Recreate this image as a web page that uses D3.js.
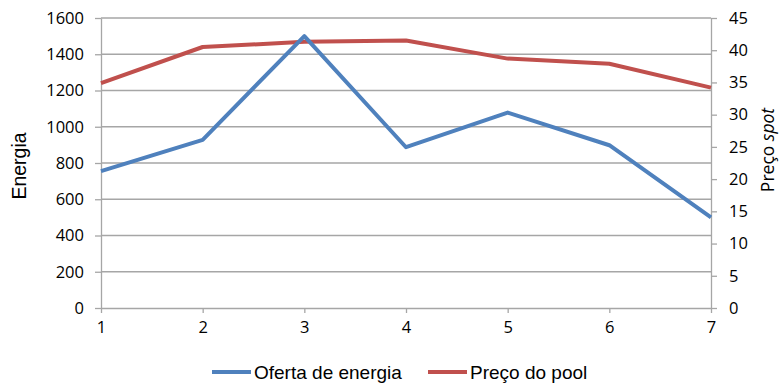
<!DOCTYPE html>
<html>
<head>
<meta charset="utf-8">
<script src="https://cdn.jsdelivr.net/npm/d3@7"></script>
<style>
  html, body { margin: 0; padding: 0; background: #fff; }
  svg { display: block; }
</style>
</head>
<body>
<svg id="chart" width="780" height="383"></svg>
<script>
// Periods and the two series
const periods = [1, 2, 3, 4, 5, 6, 7];
const oferta = [755, 928, 1500, 887, 1078, 898, 500];
const preco = [34.9, 40.5, 41.3, 41.5, 38.7, 37.9, 34.2];
const leftTicks = [0, 200, 400, 600, 800, 1000, 1200, 1400, 1600];
const rightTicks = [0, 5, 10, 15, 20, 25, 30, 35, 40, 45];
const seriesNames = ["Oferta de energia", "Preço do pool"];
const colors = ["#4f81bd", "#c0504d"];

const svg = d3.select("#chart");
const plotLeft = 101, plotRight = 711, plotTop = 18, plotBottom = 308;
const tickFont = "'Open Sans', sans-serif";
const labelFont = "'Liberation Sans', Arial, sans-serif";
const gridColor = "#a6a6a6";

const x = d3.scaleLinear().domain([1, 7]).range([plotLeft, plotRight]);
const yL = d3.scaleLinear().domain([0, 1600]).range([plotBottom, plotTop]);
const yR = d3.scaleLinear().domain([0, 45]).range([plotBottom, plotTop]);

// Horizontal gridlines
svg.append("g").selectAll("line").data(leftTicks.slice(1)).join("line")
  .attr("x1", plotLeft).attr("x2", plotRight)
  .attr("y1", d => yL(d)).attr("y2", d => yL(d))
  .attr("stroke", gridColor).attr("stroke-width", 1.3);

function styleAxis(g) {
  g.select(".domain").attr("stroke", gridColor).attr("stroke-width", 1.3);
  g.selectAll(".tick line").attr("stroke", gridColor).attr("stroke-width", 1.3);
  g.selectAll(".tick text").attr("fill", "#000")
    .style("font-family", tickFont).style("font-size", "16.5px");
}

const fmt = d3.format("d");

svg.append("g").attr("transform", `translate(${plotLeft},0)`)
  .call(d3.axisLeft(yL).tickValues(leftTicks).tickFormat(fmt).tickSize(6).tickPadding(11).tickSizeOuter(0))
  .call(styleAxis);

svg.append("g").attr("transform", `translate(${plotRight},0)`)
  .call(d3.axisRight(yR).tickValues(rightTicks).tickFormat(fmt).tickSize(6).tickPadding(12).tickSizeOuter(0))
  .call(styleAxis);

svg.append("g").attr("transform", `translate(0,${plotBottom})`)
  .call(d3.axisBottom(x).tickValues(periods).tickFormat(fmt).tickSize(5).tickPadding(8).tickSizeOuter(0))
  .call(styleAxis);

// Lines
const lineL = d3.line().x((d, i) => x(periods[i])).y(d => yL(d));
const lineR = d3.line().x((d, i) => x(periods[i])).y(d => yR(d));

svg.append("path").datum(preco).attr("d", lineR)
  .attr("fill", "none").attr("stroke", colors[1]).attr("stroke-width", 4)
  .attr("stroke-linejoin", "round");
svg.append("path").datum(oferta).attr("d", lineL)
  .attr("fill", "none").attr("stroke", colors[0]).attr("stroke-width", 4)
  .attr("stroke-linejoin", "round");

// Axis titles
svg.append("text")
  .attr("transform", "translate(26,166) rotate(-90)")
  .attr("text-anchor", "middle")
  .style("font-family", labelFont)
  .style("font-size", "19.5px").attr("fill", "#000")
  .text("Energia");

const rt = svg.append("text")
  .attr("transform", "translate(774,150) rotate(-90)")
  .attr("text-anchor", "middle")
  .style("font-family", tickFont)
  .style("font-size", "17.5px").attr("fill", "#000");
rt.append("tspan").text("Preço ");
rt.append("tspan").style("font-style", "italic").text("spot");

// Legend
const legendX = [212, 428];
seriesNames.forEach((name, i) => {
  const g = svg.append("g");
  g.append("line")
    .attr("x1", legendX[i]).attr("x2", legendX[i] + 39)
    .attr("y1", 372).attr("y2", 372)
    .attr("stroke", colors[i]).attr("stroke-width", 4);
  g.append("text")
    .attr("x", legendX[i] + 42).attr("y", 379)
    .style("font-family", labelFont)
    .style("font-size", "19px").attr("fill", "#000")
    .text(name);
});
</script>
</body>
</html>
